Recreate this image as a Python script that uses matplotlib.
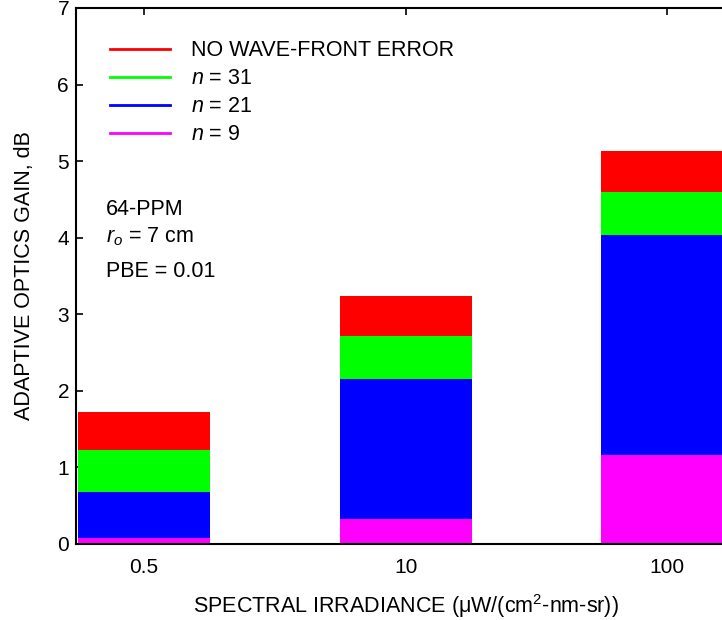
import matplotlib
matplotlib.use("Agg")
import matplotlib.pyplot as plt
from matplotlib.lines import Line2D

plt.rcParams['font.family'] = ['Liberation Sans', 'DejaVu Sans']
plt.rcParams['mathtext.fontset'] = 'custom'
plt.rcParams['mathtext.rm'] = 'Liberation Sans'
plt.rcParams['mathtext.it'] = 'Liberation Sans:italic'

# data (each series drawn from zero, overlapping)
categories = ["0.5", "10", "100"]
no_wavefront_error = [1.72, 3.24, 5.13]
n31 = [1.23, 2.72, 4.60]
n21 = [0.68, 2.15, 4.03]
n9 = [0.08, 0.32, 1.16]

series = [
    ("NO WAVE-FRONT ERROR", no_wavefront_error, "#ff0000"),
    ("$n$ = 31", n31, "#00ff00"),
    ("$n$ = 21", n21, "#0000ff"),
    ("$n$ = 9", n9, "#ff00ff"),
]

fig = plt.figure(figsize=(7.22, 6.2), dpi=100)
ax = fig.add_axes([0.1053, 0.1226, 0.913, 0.8645])

x = list(range(len(categories)))
for name, vals, color in series:
    ax.bar(x, vals, width=0.505, color=color, linewidth=0, zorder=2)

ax.set_xlim(-0.26, 2.26)
ax.set_ylim(0, 7)
ax.set_xticks(x)
ax.set_xticklabels(categories)
ax.set_yticks(range(8))

for s in ax.spines.values():
    s.set_linewidth(1.5)
    s.set_zorder(3)
ax.tick_params(direction="in", length=5, width=1.2, labelsize=15,
               top=True, right=True, pad=5)
ax.tick_params(axis="x", pad=10)

ax.set_xlabel(r"SPECTRAL IRRADIANCE (μW/(cm$^{2}$-nm-sr))", fontsize=15.5, labelpad=11)
ax.set_ylabel("ADAPTIVE OPTICS GAIN, dB", fontsize=15.5, labelpad=16)

handles = [Line2D([], [], color=c, lw=2) for _, _, c in series]
labels = [n for n, _, _ in series]
ax.legend(handles, labels, loc="upper left", bbox_to_anchor=(0.022, 0.976),
          frameon=False, fontsize=15.5, handlelength=2.8, handletextpad=0.98,
          labelspacing=0.325)

ax.text(0.045, 0.624, "64-PPM", transform=ax.transAxes, fontsize=15.5, va="center")
ax.text(0.045, 0.573, "$r_o$ = 7 cm", transform=ax.transAxes, fontsize=15.5, va="center")
ax.text(0.045, 0.509, "PBE = 0.01", transform=ax.transAxes, fontsize=15.5, va="center")

fig.savefig("out.png", dpi=100)
